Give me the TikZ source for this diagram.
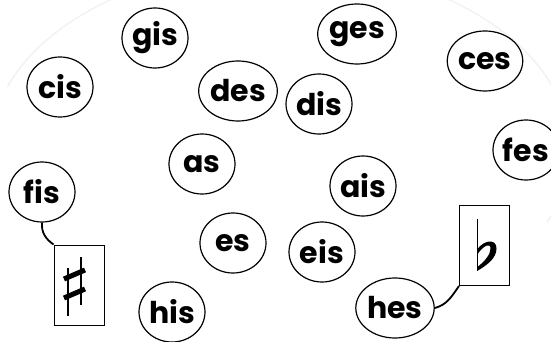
\documentclass[tikz,border=0pt]{standalone}
\usepackage{fontspec}
\setmainfont{Poppins}
\usetikzlibrary{shapes.geometric}
\tikzset{>=stealth,
  note/.style={draw, ellipse, line width=1.2pt, minimum width=66pt,
    minimum height=60pt, inner sep=0pt,
    font=\fontsize{30}{30}\selectfont\bfseries},
  signbox/.style={draw, line width=1pt, minimum width=50pt,
    minimum height=80pt, inner sep=0pt},
  link/.style={line width=1.8pt}}

\begin{document}
\begin{tikzpicture}[x=1pt, y=-1pt]
    \useasboundingbox (0,0) rectangle (551,342);
  % faint round border
    \draw[gray!10, line width=1.5pt] (280,150) ++(200:290 and 185)
        arc[start angle=200, end angle=383, x radius=290, y radius=185];
    \node[note] (gis) at (155,38) {gis};
    \node[note] (cis) at (60,87) {cis};
    \node[note] (des) at (238,91) {des};
    \node[note] (ges) at (357,34) {ges};
    \node[note] (dis) at (319,104) {dis};
    \node[note] (ces) at (485,61) {ces};
    \node[note] (fes) at (526,150) {fes};
    \node[note] (as) at (202,164) {as};
    \node[note] (ais) at (363,186) {ais};
    \node[note] (fis) at (42,192) {fis};
    \node[note] (es) at (233,243) {es};
    \node[note] (eis) at (322,252) {eis};
    \node[note] (his) at (172,312) {his};
    \node[note] (hes) at (395,308) {hes};
    \node[signbox] (sharp) at (79,285) {};
    \node[signbox] (flat) at (484.5,245.5) {};
  % sharp sign
    \begin{scope}[shift={(sharp.center)}]
      \draw[line width=1.3pt] (-11,-17) -- (-11,31) (2,-28) -- (2,20);
      \draw[line width=5pt] (-15,-6) -- (6,-15) (-15,13) -- (6,4);
    \end{scope}
  % flat sign
    \begin{scope}[shift={(flat.center)}]
      \draw[line width=1.2pt] (-7,-27) -- (-7,25);
      \fill (-7.5,4) .. controls (0,-6) and (12,-7) .. (12,3)
        .. controls (12,13) and (2,20) .. (-7.5,25.5) -- (-6.5,21)
        .. controls (0,16) and (6,9) .. (6,3)
        .. controls (6,-3) and (-1,0) .. (-6.5,8) -- cycle;
    \end{scope}
    \draw[link] (fis.south) to[out=-95, in=145] (sharp.north west);
    \draw[link] (hes.east) to[out=15, in=-125] (flat.south west);
\end{tikzpicture}
\end{document}
